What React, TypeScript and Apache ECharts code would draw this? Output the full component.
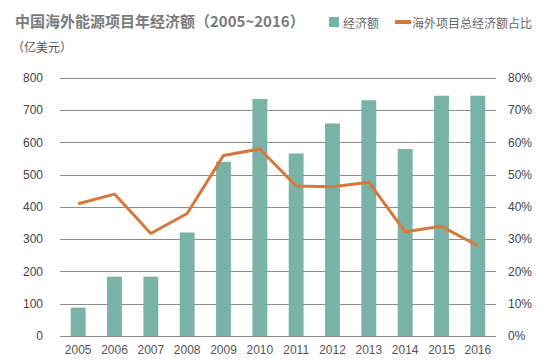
import React, { useEffect, useRef } from "react";
import * as echarts from "echarts";

const years = ["2005", "2006", "2007", "2008", "2009", "2010", "2011", "2012", "2013", "2014", "2015", "2016"];
const amounts = [88, 184, 184, 321, 540, 735, 566, 659, 731, 580, 745, 745];
const shares = [41, 44, 31.8, 38, 56, 58, 46.5, 46.3, 47.7, 32.3, 34, 28];

const BAR = "#79b3a7";
const LINE = "#d8773a";
const FONT = "'Noto Sans CJK SC', 'Noto Sans', sans-serif";

export default function App() {
  const ref = useRef<HTMLDivElement>(null);
  useEffect(() => {
    const chart = echarts.init(ref.current!, null, { renderer: "svg" });
    chart.setOption({
      animation: false,
      backgroundColor: "#ffffff",
      textStyle: { fontFamily: FONT },
      title: {
        text: "中国海外能源项目年经济额（2005~2016）",
        left: 10,
        top: 8,
        textStyle: { fontSize: 15, fontWeight: "bold", color: "#7a7a7a", fontFamily: FONT },
      },
      legend: {
        left: 324,
        top: 11,
        itemGap: 16,
        itemWidth: 16,
        itemHeight: 10,
        textStyle: { fontSize: 12, color: "#666", fontFamily: FONT, padding: [0, 0, 0, -4] },
        data: [
          { name: "经济额", icon: "path://M0,0h10v10h-10z" },
          { name: "海外项目总经济额占比", icon: "path://M0,0h16v4h-16z" },
        ],
      },
      graphic: [
        {
          type: "text",
          left: 12,
          top: 40,
          style: { text: "（亿美元）", fontSize: 12, fill: "#555", fontFamily: FONT },
        },
      ],
      grid: { left: 60, right: 51, top: 78, bottom: 24, containLabel: false },
      xAxis: {
        type: "category",
        data: years,
        axisLine: { show: false },
        axisTick: { show: false },
        axisLabel: { color: "#555", fontSize: 12, margin: 8, fontFamily: "'Liberation Sans', Arial, sans-serif" },
      },
      yAxis: [
        {
          type: "value",
          min: 0,
          max: 800,
          interval: 100,
          axisLine: { show: false },
          axisTick: { show: false },
          splitLine: { lineStyle: { color: "#8c8c8c", width: 1 } },
          axisLabel: { color: "#444", fontSize: 12, margin: 17, fontFamily: "'Liberation Sans', Arial, sans-serif" },
        },
        {
          type: "value",
          min: 0,
          max: 80,
          interval: 10,
          axisLine: { show: false },
          axisTick: { show: false },
          splitLine: { show: false },
          axisLabel: { color: "#444", fontSize: 12, margin: 12, formatter: "{value}%", fontFamily: "'Liberation Sans', Arial, sans-serif" },
        },
      ],
      series: [
        {
          name: "经济额",
          type: "bar",
          data: amounts,
          barWidth: "41%",
          itemStyle: { color: BAR },
        },
        {
          name: "海外项目总经济额占比",
          type: "line",
          yAxisIndex: 1,
          data: shares,
          symbol: "none",
          lineStyle: { color: LINE, width: 3 },
          itemStyle: { color: LINE },
        },
      ],
    });
    return () => chart.dispose();
  }, []);
  return <div ref={ref} style={{ width: 547, height: 360, position: "absolute", left: 0, top: 0 }} />;
}
